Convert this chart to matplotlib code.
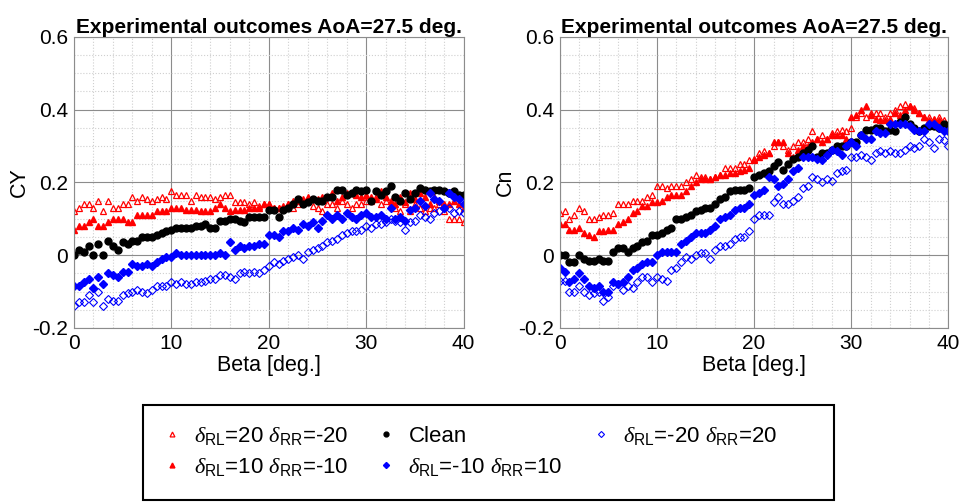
import numpy as np
import matplotlib
matplotlib.use("Agg")
import matplotlib.pyplot as plt
from matplotlib.patches import Rectangle
from matplotlib.ticker import MultipleLocator

plt.rcParams['font.family'] = ['Liberation Sans', 'DejaVu Sans']
plt.rcParams['mathtext.fontset'] = 'custom'
plt.rcParams['mathtext.rm'] = 'Liberation Sans'
plt.rcParams['mathtext.it'] = 'Liberation Serif:italic'
plt.rcParams['axes.unicode_minus'] = False

beta = np.arange(0, 40.5, 0.5)

# side force coefficient CY
cy_p20 = [0.12, 0.13, 0.14, 0.14, 0.13, 0.15, 0.12, 0.15, 0.13, 0.13,
          0.14, 0.14, 0.16, 0.15, 0.16, 0.155, 0.15, 0.155, 0.16, 0.155,
          0.175, 0.165, 0.165, 0.165, 0.15, 0.165, 0.16, 0.16, 0.16, 0.155,
          0.16, 0.165, 0.165, 0.145, 0.145, 0.145, 0.14, 0.145, 0.135, 0.14,
          0.14, 0.13, 0.13, 0.13, 0.14, 0.13, 0.14, 0.15, 0.15, 0.135,
          0.13, 0.12, 0.14, 0.14, 0.13, 0.15, 0.14, 0.13, 0.14, 0.14,
          0.15, 0.15, 0.16, 0.14, 0.15, 0.14, 0.13, 0.12, 0.14, 0.12,
          0.14, 0.13, 0.12, 0.13, 0.13, 0.14, 0.12, 0.10, 0.10, 0.10,
          0.09]
cy_p10 = [0.07, 0.08, 0.08, 0.09, 0.10, 0.08, 0.08, 0.09, 0.10, 0.10,
          0.10, 0.09, 0.09, 0.11, 0.11, 0.11, 0.11, 0.12, 0.12, 0.12,
          0.13, 0.13, 0.13, 0.125, 0.125, 0.125, 0.12, 0.12, 0.12, 0.13,
          0.14, 0.13, 0.12, 0.125, 0.125, 0.125, 0.13, 0.13, 0.13, 0.14,
          0.14, 0.13, 0.13, 0.135, 0.14, 0.15, 0.15, 0.155, 0.16, 0.155,
          0.155, 0.16, 0.16, 0.17, 0.15, 0.16, 0.17, 0.17, 0.165, 0.16,
          0.165, 0.16, 0.155, 0.175, 0.16, 0.15, 0.14, 0.16, 0.145, 0.17,
          0.155, 0.17, 0.16, 0.14, 0.16, 0.15, 0.14, 0.14, 0.15, 0.14,
          0.13]
cy_clean = [0.0, 0.015, 0.01, 0.025, 0.0, 0.03, 0.0, 0.04, 0.025, 0.015,
            0.035, 0.03, 0.04, 0.04, 0.05, 0.05, 0.05, 0.055, 0.06, 0.065,
            0.07, 0.075, 0.075, 0.075, 0.075, 0.08, 0.08, 0.085, 0.075, 0.075,
            0.095, 0.095, 0.1, 0.1, 0.095, 0.09, 0.105, 0.105, 0.105, 0.105,
            0.125, 0.125, 0.105, 0.125, 0.13, 0.14, 0.155, 0.14, 0.145, 0.155,
            0.15, 0.15, 0.16, 0.16, 0.18, 0.18, 0.165, 0.17, 0.18, 0.175,
            0.18, 0.15, 0.175, 0.165, 0.175, 0.19, 0.16, 0.15, 0.17, 0.155,
            0.17, 0.185, 0.18, 0.175, 0.18, 0.18, 0.175, 0.17, 0.175, 0.165,
            0.165]
cy_m10 = [-0.085, -0.085, -0.075, -0.065, -0.09, -0.06, -0.08, -0.05, -0.055, -0.06,
          -0.045, -0.045, -0.025, -0.03, -0.03, -0.025, -0.03, -0.02, -0.01, -0.005,
          -0.005, 0.005, 0.0, 0.0, 0.0, 0.0, 0.0, 0.0, 0.0, 0.0,
          0.005, 0.0, 0.035, 0.015, 0.025, 0.02, 0.025, 0.025, 0.03, 0.03,
          0.055, 0.055, 0.05, 0.065, 0.065, 0.075, 0.07, 0.085, 0.08, 0.09,
          0.075, 0.095, 0.11, 0.1, 0.11, 0.1, 0.115, 0.105, 0.1, 0.11,
          0.115, 0.105, 0.105, 0.11, 0.1, 0.13, 0.1, 0.105, 0.095, 0.125,
          0.13, 0.15, 0.135, 0.17, 0.155, 0.15, 0.13, 0.17, 0.16, 0.155,
          0.14]
cy_m20 = [-0.14, -0.13, -0.13, -0.11, -0.13, -0.10, -0.14, -0.12, -0.125, -0.125,
          -0.11, -0.105, -0.10, -0.095, -0.1, -0.105, -0.095, -0.085, -0.085, -0.085,
          -0.075, -0.08, -0.075, -0.08, -0.08, -0.075, -0.075, -0.07, -0.065, -0.065,
          -0.055, -0.055, -0.06, -0.065, -0.05, -0.045, -0.05, -0.045, -0.05, -0.04,
          -0.03, -0.02, -0.025, -0.015, -0.01, -0.005, 0.0, -0.01, 0.01, 0.015,
          0.02, 0.025, 0.035, 0.04, 0.045, 0.055, 0.06, 0.065, 0.065, 0.07,
          0.08, 0.075, 0.085, 0.085, 0.09, 0.1, 0.095, 0.09, 0.07, 0.09,
          0.095, 0.11, 0.105, 0.1, 0.115, 0.12, 0.13, 0.13, 0.115, 0.12,
          0.115]

# yawing moment coefficient Cn
cn_p20 = [0.115, 0.12, 0.10, 0.11, 0.13, 0.12, 0.10, 0.10, 0.105, 0.11,
          0.11, 0.115, 0.14, 0.14, 0.14, 0.15, 0.15, 0.15, 0.16, 0.165,
          0.19, 0.19, 0.185, 0.19, 0.19, 0.19, 0.20, 0.21, 0.22, 0.215,
          0.215, 0.21, 0.215, 0.22, 0.24, 0.24, 0.24, 0.25, 0.25, 0.26,
          0.26, 0.28, 0.285, 0.28, 0.30, 0.31, 0.30, 0.29, 0.30, 0.31,
          0.31, 0.32, 0.34, 0.32, 0.33, 0.32, 0.335, 0.34, 0.345, 0.34,
          0.35, 0.38, 0.39, 0.38, 0.39, 0.39, 0.39, 0.38, 0.39, 0.40,
          0.41, 0.415, 0.41, 0.405, 0.39, 0.38, 0.38, 0.37, 0.38, 0.37,
          0.36]
cn_p10 = [0.085, 0.085, 0.07, 0.07, 0.075, 0.06, 0.055, 0.05, 0.065, 0.065,
          0.07, 0.07, 0.085, 0.09, 0.10, 0.115, 0.12, 0.135, 0.135, 0.145,
          0.145, 0.15, 0.16, 0.165, 0.165, 0.165, 0.175, 0.19, 0.20, 0.21,
          0.21, 0.21, 0.215, 0.22, 0.22, 0.225, 0.225, 0.23, 0.235, 0.24,
          0.265, 0.27, 0.275, 0.28, 0.31, 0.31, 0.31, 0.28, 0.27, 0.29,
          0.30, 0.30, 0.31, 0.32, 0.31, 0.32, 0.33, 0.33, 0.33, 0.32,
          0.38, 0.385, 0.40, 0.41, 0.385, 0.375, 0.37, 0.37, 0.375, 0.39,
          0.385, 0.40, 0.41, 0.40, 0.39, 0.38, 0.37, 0.375, 0.37, 0.36,
          0.35]
cn_clean = [0.0, 0.0, -0.02, -0.02, 0.0, -0.01, -0.015, -0.015, -0.01, -0.015,
            -0.015, 0.01, 0.02, 0.02, 0.01, 0.02, 0.025, 0.035, 0.04, 0.055,
            0.055, 0.06, 0.07, 0.075, 0.10, 0.10, 0.105, 0.11, 0.12, 0.125,
            0.13, 0.13, 0.14, 0.155, 0.16, 0.175, 0.18, 0.18, 0.18, 0.185,
            0.215, 0.22, 0.225, 0.23, 0.245, 0.255, 0.235, 0.25, 0.265, 0.27,
            0.28, 0.29, 0.30, 0.27, 0.28, 0.28, 0.29, 0.30, 0.30, 0.30,
            0.31, 0.31, 0.33, 0.345, 0.345, 0.35, 0.35, 0.34, 0.345, 0.34,
            0.365, 0.38, 0.36, 0.35, 0.34, 0.35, 0.355, 0.355, 0.35, 0.36,
            0.355]
cn_m10 = [-0.035, -0.045, -0.075, -0.065, -0.05, -0.065, -0.085, -0.09, -0.085, -0.10,
          -0.10, -0.075, -0.08, -0.075, -0.06, -0.04, -0.035, -0.025, -0.02, -0.02,
          0.0, 0.01, 0.01, 0.01, 0.01, 0.03, 0.04, 0.05, 0.06, 0.06,
          0.06, 0.07, 0.08, 0.10, 0.105, 0.11, 0.125, 0.13, 0.13, 0.14,
          0.165, 0.17, 0.18, 0.215, 0.21, 0.19, 0.195, 0.21, 0.23, 0.24,
          0.27, 0.27, 0.27, 0.265, 0.26, 0.275, 0.29, 0.285, 0.275, 0.30,
          0.31, 0.30, 0.33, 0.32, 0.32, 0.34, 0.335, 0.335, 0.36, 0.36,
          0.36, 0.36, 0.355, 0.345, 0.34, 0.34, 0.36, 0.36, 0.35, 0.34,
          0.34]
cn_m20 = [-0.07, -0.07, -0.10, -0.10, -0.085, -0.10, -0.11, -0.105, -0.10, -0.125,
          -0.115, -0.085, -0.08, -0.095, -0.085, -0.09, -0.075, -0.06, -0.06, -0.075,
          -0.06, -0.065, -0.07, -0.04, -0.035, -0.02, -0.005, -0.01, 0.0, 0.005,
          0.005, -0.01, 0.015, 0.025, 0.025, 0.03, 0.045, 0.05, 0.05, 0.065,
          0.10, 0.11, 0.11, 0.11, 0.145, 0.16, 0.14, 0.14, 0.15, 0.16,
          0.185, 0.19, 0.215, 0.21, 0.20, 0.21, 0.205, 0.225, 0.23, 0.235,
          0.27, 0.27, 0.275, 0.27, 0.26, 0.28, 0.285, 0.28, 0.285, 0.28,
          0.28, 0.29, 0.30, 0.295, 0.30, 0.32, 0.31, 0.295, 0.32, 0.315,
          0.30]

labels = [r'$\delta_{\mathrm{RL}}$=20 $\delta_{\mathrm{RR}}$=-20',
          r'$\delta_{\mathrm{RL}}$=10 $\delta_{\mathrm{RR}}$=-10',
          'Clean',
          r'$\delta_{\mathrm{RL}}$=-10 $\delta_{\mathrm{RR}}$=10',
          r'$\delta_{\mathrm{RL}}$=-20 $\delta_{\mathrm{RR}}$=20']

styles = [dict(marker='^', mfc='none', mec='red', ms=5, mew=0.9),
          dict(marker='^', mfc='red', mec='red', ms=5),
          dict(marker='o', mfc='black', mec='black', ms=5),
          dict(marker='D', mfc='blue', mec='blue', ms=4.4),
          dict(marker='D', mfc='none', mec='blue', ms=4.4, mew=0.8)]

fig = plt.figure(figsize=(9.6, 5.03), dpi=100)
ax1 = fig.add_axes([0.077, 0.348, 0.406, 0.579])
ax2 = fig.add_axes([0.583, 0.348, 0.405, 0.579])

panels = [(ax1, 'CY', [cy_p20, cy_p10, cy_clean, cy_m10, cy_m20]),
          (ax2, 'Cn', [cn_p20, cn_p10, cn_clean, cn_m10, cn_m20])]

for ax, ylab, series in panels:
    for vals, st, lab in zip(series, styles, labels):
        ax.plot(beta, vals, ls='none', label=lab, **st)
    ax.set_xlim(0, 40)
    ax.set_ylim(-0.2, 0.6)
    ax.xaxis.set_major_locator(MultipleLocator(10))
    ax.xaxis.set_minor_locator(MultipleLocator(2))
    ax.yaxis.set_major_locator(MultipleLocator(0.2))
    ax.yaxis.set_minor_locator(MultipleLocator(0.05))
    ax.set_yticks([-0.2, 0, 0.2, 0.4, 0.6])
    ax.set_yticklabels(['-0.2', '0', '0.2', '0.4', '0.6'])
    ax.grid(which='major', color='#8c8c8c', lw=0.8)
    ax.grid(which='minor', color='#cfcfcf', ls=':', lw=0.8)
    ax.set_axisbelow(True)
    ax.tick_params(which='both', direction='in', length=0, labelsize=15, pad=4)
    for sp in ax.spines.values():
        sp.set_color('#8c8c8c')
    ax.set_xlabel('Beta [deg.]', fontsize=15.5, labelpad=2)
    ax.set_ylabel(ylab, fontsize=15.5, labelpad=2)
    ax.set_title('Experimental outcomes AoA=27.5 deg.', fontsize=15,
                 fontweight='bold', pad=2)

# legend entries without frame, box drawn separately so it can be wider
box_x0, box_x1 = 143 / 960, 834 / 960
box_top, box_bot = 1 - 405 / 503, 1 - 500 / 503
handles, labs = ax1.get_legend_handles_labels()
leg = fig.legend(handles, labs, ncol=3, loc='upper left',
                 bbox_to_anchor=(box_x0, box_top), borderaxespad=0,
                 fontsize=16, frameon=False, handlelength=0.8,
                 handletextpad=0.6, columnspacing=1.3, borderpad=0.9,
                 labelspacing=0.4, markerscale=0.7)
fig.patches.append(Rectangle((box_x0, box_bot), box_x1 - box_x0, box_top - box_bot,
                             transform=fig.transFigure, fill=False,
                             edgecolor='black', lw=1.5))

fig.savefig('out.png', dpi=100)
